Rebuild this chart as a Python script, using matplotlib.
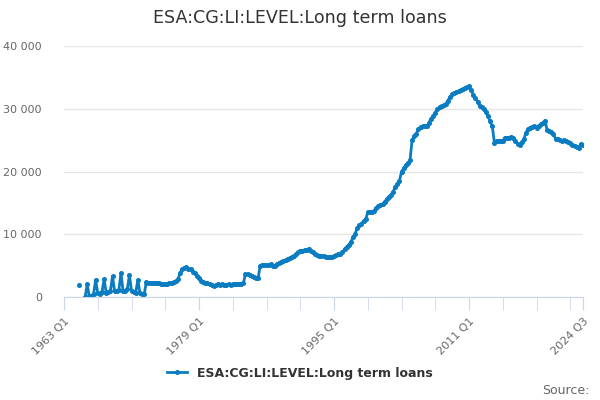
import matplotlib
matplotlib.use("Agg")
import matplotlib.pyplot as plt
import numpy as np

# quarterly values starting at 1963 Q1 (nan = no observation)
values = [
    np.nan, np.nan, np.nan, np.nan, np.nan, np.nan, np.nan, 1900,
    np.nan, np.nan, 0, 2000, 100, 200, 500, 2700, 600, 500, 800, 2800,
    700, 800, 1000, 3300, 900, 900, 1100, 3800, 1000, 1000, 1200, 3500,
    1000, 800, 700, 2700, 600, 400, 400, 2400,
    2300, 2300, 2200, 2300, 2200, 2200, 2100, 2100, 2000, 2100,
    2200, 2300, 2400, 2500, 2800, 3800, 4400, 4600, 4800, 4500,
    4400, 4000, 3800, 3400, 3000, 2500, 2400, 2300, 2200, 2000,
    1900, 1800, 1900, 2100, 1900, 2000, 1900, 1900, 2000, 1900,
    2000, 2000, 2000, 2000, 2100, 2200, 3600, 3600, 3500, 3400,
    3200, 3100, 3000, 5000, 5100, 5100, 5100, 5100, 5200, 5000,
    5000, 5300, 5400, 5600, 5700, 5900, 6100, 6200, 6400, 6600,
    6800, 7200, 7400, 7400, 7500, 7500, 7700, 7400, 7100, 6900,
    6700, 6600, 6600, 6500, 6400, 6400, 6400, 6400, 6500, 6700,
    6800, 6900, 7200, 7600, 8000, 8300, 8800, 9500, 10100, 11000,
    11400, 11700, 12100, 12400, 13500, 13600, 13600, 13700, 14200, 14500,
    14700, 14800, 15200, 15600, 16000, 16300, 16800, 17500, 18000, 18500,
    20000, 20500, 21000, 21400, 21800, 25000, 25600, 26000, 26800, 27100,
    27200, 27200, 27200, 27800, 28400, 28900, 29400, 29900, 30300, 30500,
    30600, 30800, 31300, 31900, 32300, 32500, 32600, 32800, 33000, 33100,
    33300, 33400, 33600, 33000, 32200, 31700, 31100, 30500, 30300, 29900,
    29500, 28800, 28000, 27200, 24600, 24900, 24900, 24900, 24900, 25400,
    25400, 25400, 25500, 25400, 24900, 24400, 24300, 24700, 25200, 26200,
    26800, 27000, 27100, 27200, 27000, 27300, 27500, 27800, 28100, 26600,
    26500, 26300, 26000, 25200, 25100, 25000, 24900, 25000, 24900, 24700,
    24500, 24300, 24100, 23900, 23800, 24400, 24300,
]
tick_labels = ["1963 Q1", "1979 Q1", "1995 Q1", "2011 Q1", "2024 Q3"]
tick_pos = [0, 64, 128, 192, 246]
series_name = "ESA:CG:LI:LEVEL:Long term loans"

x = np.arange(len(values))
y = np.array(values, dtype=float)

color = "#0a7cc1"
grey = "#666666"
axis_col = "#ccd6eb"

fig = plt.figure(figsize=(6, 4), dpi=100)
ax = fig.add_axes([64 / 600, 103 / 400, 519 / 600, 251 / 400])

ax.plot(x, y, color=color, lw=2, marker="o", ms=2.6, mec=color, mfc=color,
        label=series_name, solid_joinstyle="round")

ax.set_xlim(0, len(values) - 1)
ax.set_ylim(0, 40000)
ax.set_yticks([0, 10000, 20000, 30000, 40000])
ax.set_yticklabels(["0", "10 000", "20 000", "30 000", "40 000"])
ax.set_xticks(tick_pos)
ax.set_xticklabels(tick_labels, rotation=45, ha="right", rotation_mode="anchor")
ax.set_xticks(np.arange(0, len(values), 16), minor=True)

ax.grid(axis="y", color="#e6e6e6", lw=1)
ax.set_axisbelow(True)
for side in ["top", "right", "left"]:
    ax.spines[side].set_visible(False)
ax.spines["bottom"].set_color(axis_col)
ax.tick_params(axis="y", length=0, pad=16, labelsize=8, labelcolor=grey)
ax.tick_params(axis="x", which="both", length=9, color=axis_col,
               labelsize=8, labelcolor=grey, pad=5)

fig.text(0.5, 0.955, series_name, ha="center", va="center",
         fontsize=12.6, color="#333333")

leg = fig.legend(loc="center", bbox_to_anchor=(0.5, 0.067), frameon=False,
                 handlelength=1.6, prop={"weight": "bold", "size": 9})
for t in leg.get_texts():
    t.set_color("#333333")

fig.text(0.982, 0.025, "Source:", ha="right", va="center", fontsize=9, color=grey)

fig.savefig("out.png", dpi=100)
